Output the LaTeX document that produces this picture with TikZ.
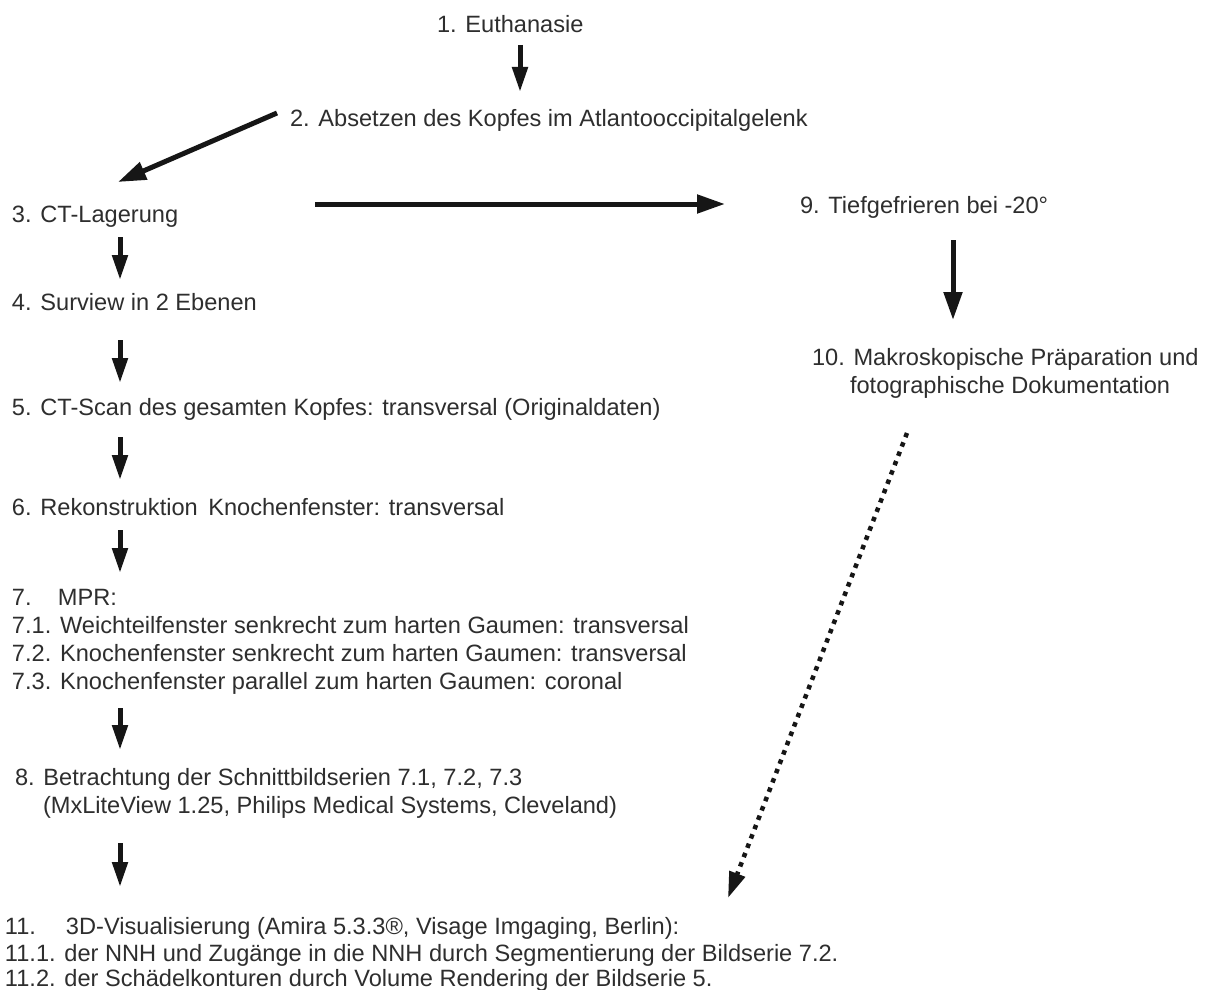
\documentclass[tikz,border=0pt]{standalone}
\usepackage{fontspec}
\setmainfont{Liberation Sans}
\usetikzlibrary{arrows.meta,calc}
\definecolor{txt}{HTML}{2E2E2E}
\definecolor{ink}{HTML}{161616}
\begin{document}
\begin{tikzpicture}[x=1pt,y=-1pt,
  lbl/.style={anchor=base west,inner sep=0pt,outer sep=0pt,text=txt,font=\fontsize{23.6}{28}\selectfont},
  arr/.style={draw=ink,line width=5pt,-{Triangle[length=25pt,width=15pt]}},
  bigarr/.style={draw=ink,line width=5pt,-{Triangle[length=28pt,width=18pt]}},
  dotarr/.style={draw=ink,line width=4.5pt,dash pattern=on 4.5pt off 5.5pt,-{Triangle[length=26pt,width=16pt]}}]
\useasboundingbox[fill=white] (0,0) rectangle (1205,990);

% nodes
\node[lbl] (n1) at (437,33) {1. Euthanasie};
\node[lbl] (n2) at (290,126) {2. Absetzen des Kopfes im Atlantooccipitalgelenk};
\node[lbl] (n3) at (12,222) {3. CT-Lagerung};
\node[lbl] (n9) at (800,213) {9. Tiefgefrieren bei -20°};
\node[lbl] (n10a) at (812,365) {10. Makroskopische Präparation und};
\node[lbl] (n10b) at (850,393) {fotographische Dokumentation};
\node[lbl] (n4) at (12,310) {4. Surview in 2 Ebenen};
\node[lbl] (n5) at (12,415) {5. CT-Scan des gesamten Kopfes: transversal (Originaldaten)};
\node[lbl] (n6) at (12,515) {6. Rekonstruktion\, Knochenfenster: transversal};
\node[lbl] (n7a) at (12,605) {\makebox[46pt][l]{7.}MPR:};
\node[lbl] (n7b) at (12,633) {7.1. Weichteilfenster senkrecht zum harten Gaumen: transversal};
\node[lbl] (n7c) at (12,661) {7.2. Knochenfenster senkrecht zum harten Gaumen: transversal};
\node[lbl] (n7d) at (12,689) {7.3. Knochenfenster parallel zum harten Gaumen: coronal};
\node[lbl] (n8a) at (15,785) {8. Betrachtung der Schnittbildserien 7.1, 7.2, 7.3};
\node[lbl] (n8b) at (43,813) {(MxLiteView 1.25, Philips Medical Systems, Cleveland)};
\node[lbl] (n11a) at (5,934) {\makebox[61pt][l]{11.}3D-Visualisierung (Amira 5.3.3®, Visage Imgaging, Berlin):};
\node[lbl] (n11b) at (5,961) {11.1. der NNH und Zugänge in die NNH durch Segmentierung der Bildserie 7.2.};
\node[lbl] (n11c) at (5,986) {11.2. der Schädelkonturen durch Volume Rendering der Bildserie 5.};

% connectors
\draw[arr] ($(n1.base west)+(83,12)$) -- ($(n2.base west)+(230,-34)$);
\draw[bigarr] ($(n2.base west)+(-13,-13)$) -- ($(n3.base west)+(106,-40)$);
\draw[bigarr] ($(n3.base west)+(303,-18)$) -- ($(n9.base west)+(-75,-9)$);
\draw[bigarr] ($(n9.base west)+(153,27)$) -- ($(n10a.base west)+(141,-45)$);
\draw[arr] ($(n3.base west)+(108,15)$) -- ($(n4.base west)+(108,-30)$);
\draw[arr] ($(n4.base west)+(108,30)$) -- ($(n5.base west)+(108,-32)$);
\draw[arr] ($(n5.base west)+(108,22)$) -- ($(n6.base west)+(108,-35)$);
\draw[arr] ($(n6.base west)+(108,15)$) -- ($(n7a.base west)+(108,-32)$);
\draw[arr] ($(n7d.base west)+(108,19)$) -- ($(n8a.base west)+(105,-35)$);
\draw[arr] ($(n8b.base west)+(77,30)$) -- ($(n11a.base west)+(115,-47)$);
\draw[dotarr] ($(n10b.base west)+(57,40)$) -- ($(n11a.base west)+(723,-36)$);
\end{tikzpicture}
\end{document}
